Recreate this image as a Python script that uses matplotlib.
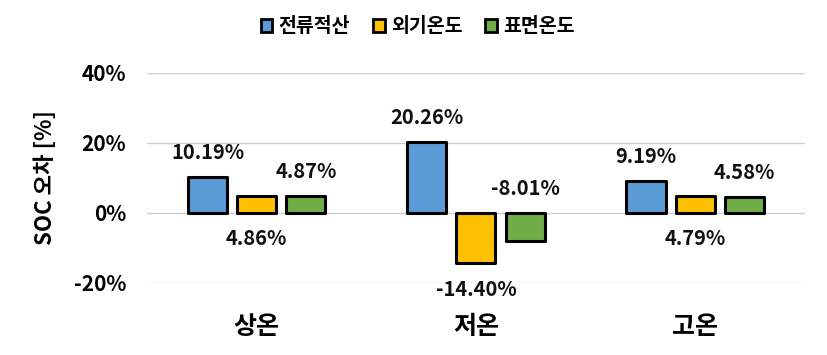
import matplotlib
matplotlib.use("Agg")
import matplotlib.pyplot as plt
import numpy as np

plt.rcParams['font.family'] = ['Noto Sans CJK KR', 'DejaVu Sans']
plt.rcParams['font.weight'] = 'bold'

categories = ["상온", "저온", "고온"]
series_names = ["전류적산", "외기온도", "표면온도"]
current_integ = [10.19, 20.26, 9.19]
ambient_temp = [4.86, -14.40, 4.79]
surface_temp = [4.87, -8.01, 4.58]
yticks = [-20, 0, 20, 40]

colors = ["#5B9BD5", "#FFC000", "#70AD47"]
series = [current_integ, ambient_temp, surface_temp]
offsets = [-0.224, 0.0, 0.224]
# label placement per series: blue above, yellow below, green above
label_side = ["above", "below", "above"]

fig = plt.figure(figsize=(8.27, 3.55), dpi=100)
ax = fig.add_axes([0.178, 0.203, 0.795, 0.592])

x = np.arange(len(categories))
for vals, col, off, name, side in zip(series, colors, offsets, series_names, label_side):
    ax.bar(x + off, vals, width=0.178, color=col, edgecolor="black",
           linewidth=2.2, label=name, zorder=3, joinstyle="round")
    for xi, v in zip(x + off, vals):
        if side == "above":
            y, dy, va = max(v, 0), 10, "bottom"
        else:
            y, dy, va = min(v, 0), -11, "top"
        ax.annotate(f"{v:.2f}%", (xi, y), xytext=(0, dy), textcoords="offset points",
                    ha="center", va=va, fontsize=14.5, fontweight="bold", color="#111111")

ax.set_xlim(-0.5, 2.5)
ax.set_ylim(-20, 40)
ax.set_yticks(yticks)
ax.set_yticklabels([f"{t}%" for t in yticks])
ax.set_xticks(x)
ax.set_xticklabels(categories, fontsize=18, fontweight="bold")
ax.tick_params(axis="y", labelsize=15, length=0, pad=15)
ax.tick_params(axis="x", length=0, pad=23)
for lab in ax.get_yticklabels():
    lab.set_fontweight("bold")
ax.grid(axis="y", color="#d0d0d0", linewidth=1.0, zorder=0)
for s in ax.spines.values():
    s.set_visible(False)
ax.set_ylabel("SOC 오차 [%]", fontsize=16, fontweight="bold", labelpad=12)

leg = fig.legend(loc="upper center", bbox_to_anchor=(0.505, 1.0), ncol=3, frameon=False,
                 fontsize=14, handlelength=0.6, handleheight=0.6, handletextpad=0.3,
                 columnspacing=1.2)
for t in leg.get_texts():
    t.set_fontweight("bold")
for h in leg.legend_handles:
    h.set_linewidth(2.0)

fig.savefig("out.png", dpi=100)
